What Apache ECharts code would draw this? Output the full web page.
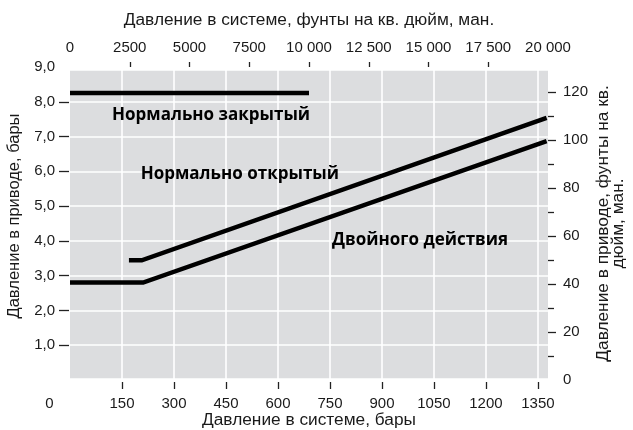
<!DOCTYPE html>
<html>
<head>
<meta charset="utf-8">
<script src="https://cdn.jsdelivr.net/npm/echarts@6/dist/echarts.min.js"></script>
<style>html,body{margin:0;padding:0;background:#fff}#c{width:633px;height:430px}</style>
</head>
<body>
<div id="c"></div>
<script>
// ---- data ----
const barTickLabels = [0, 150, 300, 450, 600, 750, 900, 1050, 1200, 1350];
const barTickMarks = [150, 300, 450, 600, 750, 900, 1050, 1200, 1350];
const psiTickLabels = [0, 2500, 5000, 7500, 10000, 12500, 15000, 17500, 20000];
const psiTickMarks = [2500, 5000, 7500, 10000, 12500, 15000, 17500];
const actBarLabels = [1, 2, 3, 4, 5, 6, 7, 8, 9];
const actBarTicks = [1, 2, 3, 4, 5, 6, 7, 8];
const actPsiLabels = [0, 20, 40, 60, 80, 100, 120];
const actPsiMajor = [20, 40, 60, 80, 100, 120];
const actPsiMinor = [10, 30, 50, 70, 90, 110];

const closedX = [0, 689.5];
const closedY = [8.25, 8.25];
const openX = [170, 207, 1375];
const openY = [3.44, 3.44, 7.54];
const doubleX = [0, 211, 1375];
const doubleY = [2.8, 2.8, 6.87];

const noteTexts = ['Нормально закрытый', 'Нормально открытый', 'Двойного действия'];
const noteX = [407, 490, 1010];
const noteY = [7.61, 5.91, 4.03];

const PSI_PER_BAR = 14.5038;
const systemMaxBar = 1379;
const actuatorMaxBar = 9;
const shadedMinBar = 0.05;
const shadedMaxBar = 8.89;

const zip = (xs, ys) => xs.map((x, i) => [x, ys[i]]);

const labelFont = {fontFamily: 'Liberation Sans', fontSize: 15, color: '#1a1a1a'};
const nameFont = {fontFamily: 'Liberation Sans', fontSize: 17.3, color: '#1a1a1a'};
const fmtBar = v => v.toFixed(1).replace('.', ',');
const fmtPsi = v => v >= 10000 ? String(Math.floor(v / 1000)) + ' ' + String(v % 1000).padStart(3, '0') : String(v);
const tickStyle = {color: '#222', width: 1.3};
const gridLineStyle = {color: '#ffffff', width: 1.6};

const chart = echarts.init(document.getElementById('c'), null, {renderer: 'canvas'});
chart.setOption({
  animation: false,
  backgroundColor: '#ffffff',
  grid: {left: 70, right: 85, top: 67, bottom: 50, outerBoundsMode: 'none', containLabel: false},
  xAxis: [
    {
      type: 'value', position: 'bottom', min: 0, max: systemMaxBar, interval: 150, offset: 2, z: 3,
      name: 'Давление в системе, бары', nameLocation: 'middle', nameGap: 30, nameMoveOverlap: false,
      nameTextStyle: nameFont,
      axisLine: {show: false, onZero: false},
      axisTick: {show: true, length: 7, customValues: barTickMarks, lineStyle: tickStyle},
      axisLabel: Object.assign({}, labelFont, {
        margin: 14, customValues: barTickLabels,
        formatter: v => v === 0 ? '{z|0}' : String(v),
        rich: {z: {fontFamily: 'Liberation Sans', fontSize: 15, color: '#1a1a1a', padding: [0, 41, 0, 0]}}
      }),
      splitLine: {show: true, lineStyle: gridLineStyle}
    },
    {
      type: 'value', position: 'top', min: 0, max: 20000, interval: 2500, z: 3,
      name: 'Давление в системе, фунты на кв. дюйм, ман.', nameLocation: 'middle', nameGap: 38, nameMoveOverlap: false,
      nameTextStyle: nameFont,
      axisLine: {show: false, onZero: false},
      axisTick: {show: true, length: 5, customValues: psiTickMarks, lineStyle: tickStyle},
      axisLabel: Object.assign({}, labelFont, {margin: 12, customValues: psiTickLabels, formatter: fmtPsi}),
      splitLine: {show: false}
    }
  ],
  yAxis: [
    {
      type: 'value', position: 'left', min: 0, max: actuatorMaxBar, interval: 1, offset: 1, z: 3,
      name: 'Давление в приводе, бары', nameLocation: 'middle', nameGap: 46, nameMoveOverlap: false,
      nameTextStyle: Object.assign({}, nameFont, {fontSize: 16.5, padding: [0, 0, 0, 15]}),
      axisLine: {show: false, onZero: false},
      axisTick: {show: true, length: 10, customValues: actBarTicks, lineStyle: tickStyle},
      axisLabel: Object.assign({}, labelFont, {margin: 14, customValues: actBarLabels, formatter: fmtBar}),
      splitLine: {show: true, lineStyle: gridLineStyle}
    },
    {
      type: 'value', position: 'right', min: 0, max: actuatorMaxBar * PSI_PER_BAR, interval: 20, z: 3,
      name: 'Давление в приводе, фунты на кв.\nдюйм, ман.', nameLocation: 'middle', nameGap: 48, nameMoveOverlap: false,
      nameTextStyle: Object.assign({}, nameFont, {lineHeight: 15}),
      axisLine: {show: false, onZero: false},
      axisTick: {show: true, length: 8, customValues: actPsiMajor, lineStyle: tickStyle},
      axisLabel: Object.assign({}, labelFont, {margin: 15, customValues: actPsiLabels}),
      splitLine: {show: false}
    },
    {
      type: 'value', position: 'right', min: 0, max: actuatorMaxBar * PSI_PER_BAR, interval: 20, z: 3,
      axisLine: {show: false, onZero: false},
      axisTick: {show: true, length: 6, customValues: actPsiMinor, lineStyle: tickStyle},
      axisLabel: {show: false},
      splitLine: {show: false}
    }
  ],
  series: [
    {
      type: 'line', name: 'shade', z: 1, data: [], silent: true,
      markArea: {
        silent: true, z: 1,
        itemStyle: {color: '#dcdddf'},
        data: [[{coord: [0, shadedMinBar]}, {coord: [systemMaxBar, shadedMaxBar]}]]
      }
    },
    {type: 'line', name: 'Нормально закрытый', data: zip(closedX, closedY), symbol: 'none', lineStyle: {color: '#000', width: 4.5, cap: 'butt'}, z: 5},
    {type: 'line', name: 'Нормально открытый', data: zip(openX, openY), symbol: 'none', lineStyle: {color: '#000', width: 4.5, cap: 'butt', join: 'miter'}, z: 5},
    {type: 'line', name: 'Двойного действия', data: zip(doubleX, doubleY), symbol: 'none', lineStyle: {color: '#000', width: 4.5, cap: 'butt', join: 'miter'}, z: 5},
    {
      type: 'scatter', name: 'notes', z: 6, silent: true, symbolSize: 1,
      itemStyle: {color: 'rgba(0,0,0,0)', opacity: 1},
      data: noteTexts.map((t, i) => ({name: t, value: [noteX[i], noteY[i]]})),
      label: {show: true, position: 'inside', formatter: '{b}', fontFamily: 'Open Sans', fontWeight: 'bold', fontSize: 17, color: '#000', opacity: 1, textBorderWidth: 0}
    }
  ]
});
</script>
</body>
</html>
